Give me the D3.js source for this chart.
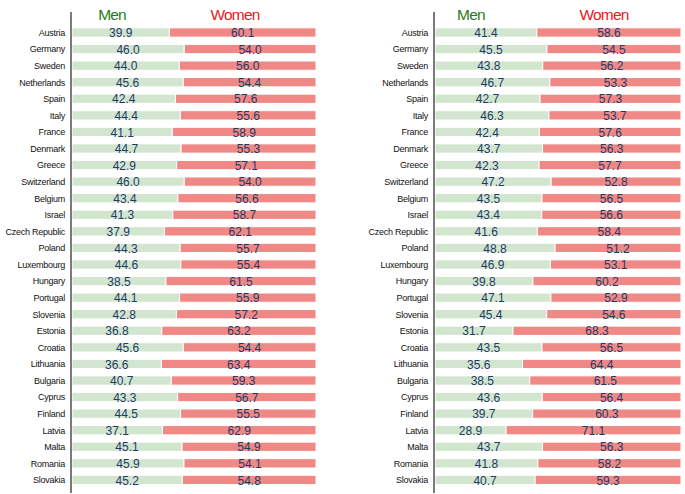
<!DOCTYPE html>
<html>
<head>
<meta charset="utf-8">
<script src="https://cdn.jsdelivr.net/npm/d3@7"></script>
<style>
  html, body { margin: 0; padding: 0; background: #fff; }
  svg { display: block; font-family: "Liberation Sans", Arial, Helvetica, sans-serif; }
</style>
</head>
<body>
<svg id="chart" width="685" height="494"></svg>
<script>
const countries = ["Austria","Germany","Sweden","Netherlands","Spain","Italy","France","Denmark","Greece","Switzerland","Belgium","Israel","Czech Republic","Poland","Luxembourg","Hungary","Portugal","Slovenia","Estonia","Croatia","Lithuania","Bulgaria","Cyprus","Finland","Latvia","Malta","Romania","Slovakia"];

const menLeft   = [39.9,46.0,44.0,45.6,42.4,44.4,41.1,44.7,42.9,46.0,43.4,41.3,37.9,44.3,44.6,38.5,44.1,42.8,36.8,45.6,36.6,40.7,43.3,44.5,37.1,45.1,45.9,45.2];
const womenLeft = [60.1,54.0,56.0,54.4,57.6,55.6,58.9,55.3,57.1,54.0,56.6,58.7,62.1,55.7,55.4,61.5,55.9,57.2,63.2,54.4,63.4,59.3,56.7,55.5,62.9,54.9,54.1,54.8];

const menRight   = [41.4,45.5,43.8,46.7,42.7,46.3,42.4,43.7,42.3,47.2,43.5,43.4,41.6,48.8,46.9,39.8,47.1,45.4,31.7,43.5,35.6,38.5,43.6,39.7,28.9,43.7,41.8,40.7];
const womenRight = [58.6,54.5,56.2,53.3,57.3,53.7,57.6,56.3,57.7,52.8,56.5,56.6,58.4,51.2,53.1,60.2,52.9,54.6,68.3,56.5,64.4,61.5,56.4,60.3,71.1,56.3,58.2,59.3];

const seriesLabels = ["Men", "Women"];

const svg = d3.select("#chart");

const y = d3.scaleBand().domain(countries).range([24.2, 488.2]).paddingInner(0.44).paddingOuter(0.22);

function panel(axisX, x0, x1, men, women, titlePos) {
  const x = d3.scaleLinear().domain([0, 100]).range([x0, x1]);
  const g = svg.append("g");
  const rows = countries.map((c, i) => ({ c, m: men[i], w: women[i] }));

  // men bars
  g.selectAll(".men").data(rows).join("rect")
    .attr("x", x(0))
    .attr("y", d => y(d.c))
    .attr("width", d => x(d.m) - x(0))
    .attr("height", y.bandwidth())
    .attr("fill", "#d2e6cf")
    .attr("stroke", "#fff").attr("stroke-width", 1);

  // women bars
  g.selectAll(".women").data(rows).join("rect")
    .attr("x", d => x(d.m))
    .attr("y", d => y(d.c))
    .attr("width", d => x(d.m + d.w) - x(d.m))
    .attr("height", y.bandwidth())
    .attr("fill", "#f08985")
    .attr("stroke", "#fff").attr("stroke-width", 1);

  // value labels
  g.selectAll(".mlab").data(rows).join("text")
    .attr("x", d => x(d.m / 2))
    .attr("y", d => y(d.c) + y.bandwidth() / 2 + 4.6)
    .attr("text-anchor", "middle")
    .attr("font-size", 12)
    .attr("fill", "#1f3a68")
    .text(d => d.m.toFixed(1));

  g.selectAll(".wlab").data(rows).join("text")
    .attr("x", d => x(d.m + d.w / 2))
    .attr("y", d => y(d.c) + y.bandwidth() / 2 + 4.6)
    .attr("text-anchor", "middle")
    .attr("font-size", 12)
    .attr("fill", "#1f3a68")
    .text(d => d.w.toFixed(1));

  // country labels
  g.selectAll(".clab").data(rows).join("text")
    .attr("x", axisX - 6)
    .attr("y", d => y(d.c) + y.bandwidth() / 2 + 3.3)
    .attr("text-anchor", "end")
    .attr("font-size", 9)
    .attr("letter-spacing", "-0.25px")
    .attr("fill", "#111")
    .text(d => d.c);

  // axis line
  g.append("line")
    .attr("x1", axisX).attr("x2", axisX)
    .attr("y1", 12).attr("y2", 493)
    .attr("stroke", "#333").attr("stroke-width", 1.3);

  // titles
  g.append("text").attr("x", x(titlePos[0])).attr("y", 20)
    .attr("text-anchor", "middle").attr("font-size", 15.5)
    .attr("letter-spacing", "-0.85px").attr("fill", "#2a7a18")
    .text(seriesLabels[0]);
  g.append("text").attr("x", x(titlePos[1])).attr("y", 20)
    .attr("text-anchor", "middle").attr("font-size", 15.5)
    .attr("letter-spacing", "-0.85px").attr("fill", "#e8201c")
    .text(seriesLabels[1]);
}

panel(71, 72, 316, menLeft, womenLeft, [16.4, 66.8]);
panel(434, 435, 681, menRight, womenRight, [14.6, 68.7]);
</script>
</body>
</html>
